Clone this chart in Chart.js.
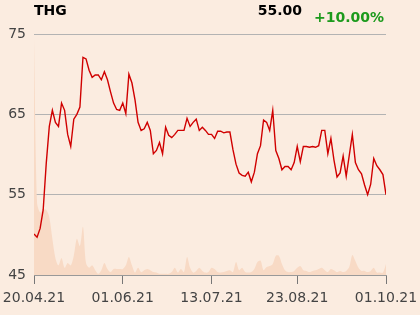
<!DOCTYPE html>
<html>
<head>
<meta charset="utf-8">
<script src="https://cdn.jsdelivr.net/npm/chart.js@4"></script>
<style>
  html, body { margin: 0; padding: 0; background: #fbece0; }
  #wrap { position: relative; width: 420px; height: 315px; overflow: hidden; }
  canvas { position: absolute; left: 0; top: 0; }
  .hd { position: absolute; font: bold 14px "DejaVu Sans", sans-serif; line-height: 14px; white-space: nowrap; }
  #name { left: 34px; top: 3px; color: #000; }
  #last { right: 118px; top: 3px; color: #000; }
  #chg { right: 36px; top: 10px; color: #1c9a1c; }
</style>
</head>
<body>
<div id="wrap">
  <canvas id="chart" width="420" height="315"></canvas>
  <div class="hd" id="name">THG</div>
  <div class="hd" id="last">55.00</div>
  <div class="hd" id="chg">+10.00%</div>
</div>
<script>
// closing prices, one per trading day (20.04.21 .. 01.10.21)
const prices = [
  50.1, 49.7, 50.8, 53.1, 58.9, 63.5, 65.5, 64.0, 63.5, 66.4,
  65.5, 62.5, 61.0, 64.4, 65.0, 65.9, 72.1, 71.9, 70.5, 69.6,
  69.9, 69.9, 69.3, 70.3, 69.3, 67.8, 66.4, 65.6, 65.5, 66.4,
  65.1, 70.0, 68.9, 66.8, 64.0, 63.0, 63.2, 64.0, 63.0, 60.1,
  60.5, 61.5, 60.1, 63.4, 62.4, 62.1, 62.5, 63.0, 63.0, 63.0,
  64.5, 63.5, 64.0, 64.4, 63.0, 63.4, 63.0, 62.5, 62.5, 62.0,
  62.9, 62.9, 62.7, 62.8, 62.8, 60.6, 58.8, 57.7, 57.4, 57.3,
  57.8, 56.6, 57.8, 60.1, 61.1, 64.3, 64.0, 63.0, 65.5, 60.5,
  59.5, 58.1, 58.5, 58.5, 58.1, 59.0, 61.0, 59.1, 61.0, 61.0,
  60.9, 61.0, 60.9, 61.1, 63.0, 63.0, 60.1, 62.0, 59.3, 57.2,
  57.7, 59.8, 57.3, 59.9, 62.5, 59.0, 58.1, 57.6, 56.2, 55.0,
  56.3, 59.5, 58.6, 58.1, 57.5, 55.0
];

// traded volume (relative units)
const volumes = [
  98, 30, 26, 27, 27, 24, 15, 7, 4, 7,
  3, 5, 4, 8, 15, 12, 20, 5, 3, 4,
  2, 0.5, 2, 5, 2.5, 1.2, 2.5, 2.5, 2.5, 2.5,
  4, 7.5, 4, 1, 3, 1.2, 2, 2.5, 2, 1.2,
  1, 0.5, 0.5, 0.5, 0.5, 1.2, 3, 1, 2.5, 1.2,
  7.5, 3, 1, 1.7, 3, 1.7, 1, 1.2, 3, 2.5,
  1.2, 1, 1.2, 1.7, 2, 1.2, 5.4, 2, 3, 1.2,
  1, 1.2, 2.5, 5.4, 6, 2, 3.3, 3.7, 4.6, 8,
  8, 4.6, 2, 1.2, 1.2, 1.7, 3, 3.7, 2, 1.7,
  1.2, 1.7, 2, 2.5, 3, 2, 1.2, 2.5, 2, 1.2,
  1.7, 1.2, 1.7, 3.3, 8.3, 5.8, 3, 1.7, 1.7, 1.2,
  1.7, 3, 1, 1, 1, 4.6
];

const tickIdx = [0, 29, 58, 86, 115];
const tickLabels = ['20.04.21', '01.06.21', '13.07.21', '23.08.21', '01.10.21'];
const yTicks = [45, 55, 65, 75];

const bg = {
  id: 'bg',
  beforeDraw(chart) {
    const c = chart.ctx;
    c.save();
    c.fillStyle = '#fbece0';
    c.fillRect(0, 0, chart.width, chart.height);
    c.restore();
  }
};

new Chart(document.getElementById('chart'), {
  type: 'line',
  data: {
    datasets: [
      {
        data: prices.map((v, i) => ({ x: i, y: v })),
        borderColor: '#d00000',
        borderWidth: 1.4,
        pointRadius: 0,
        tension: 0,
        yAxisID: 'y',
        order: 1
      },
      {
        data: volumes.map((v, i) => ({ x: i, y: v })),
        borderWidth: 0,
        backgroundColor: '#f8dac5',
        fill: 'origin',
        pointRadius: 0,
        tension: 0.3,
        yAxisID: 'v',
        order: 2
      }
    ]
  },
  options: {
    responsive: false,
    animation: false,
    events: [],
    layout: { padding: { top: 34, right: 34, left: 0, bottom: 0 } },
    plugins: { legend: { display: false }, tooltip: { enabled: false } },
    scales: {
      x: {
        type: 'linear',
        min: 0,
        max: prices.length - 1,
        afterBuildTicks: s => { s.ticks = tickIdx.map(v => ({ value: v })); },
        afterFit: s => { s.height = 40; s.paddingLeft = 0; s.paddingRight = 0; },
        ticks: {
          autoSkip: false,
          maxRotation: 0,
          padding: 6,
          color: '#444',
          font: { family: 'DejaVu Sans', size: 14 },
          callback: v => tickLabels[tickIdx.indexOf(v)]
        },
        grid: { drawOnChartArea: false, drawTicks: true, tickLength: 9, color: '#777' },
        border: { display: true, color: '#999' }
      },
      y: {
        min: 45,
        max: 75,
        afterBuildTicks: s => { s.ticks = yTicks.map(v => ({ value: v })); },
        afterFit: s => { s.width = 34; s.paddingTop = 0; s.paddingBottom = 0; },
        ticks: {
          padding: 8,
          color: '#444',
          font: { family: 'DejaVu Sans', size: 14 }
        },
        grid: { drawTicks: false, color: '#b3b3b3' },
        border: { display: false }
      },
      v: {
        display: false,
        min: 0,
        max: 100
      }
    }
  },
  plugins: [bg]
});
</script>
</body>
</html>
